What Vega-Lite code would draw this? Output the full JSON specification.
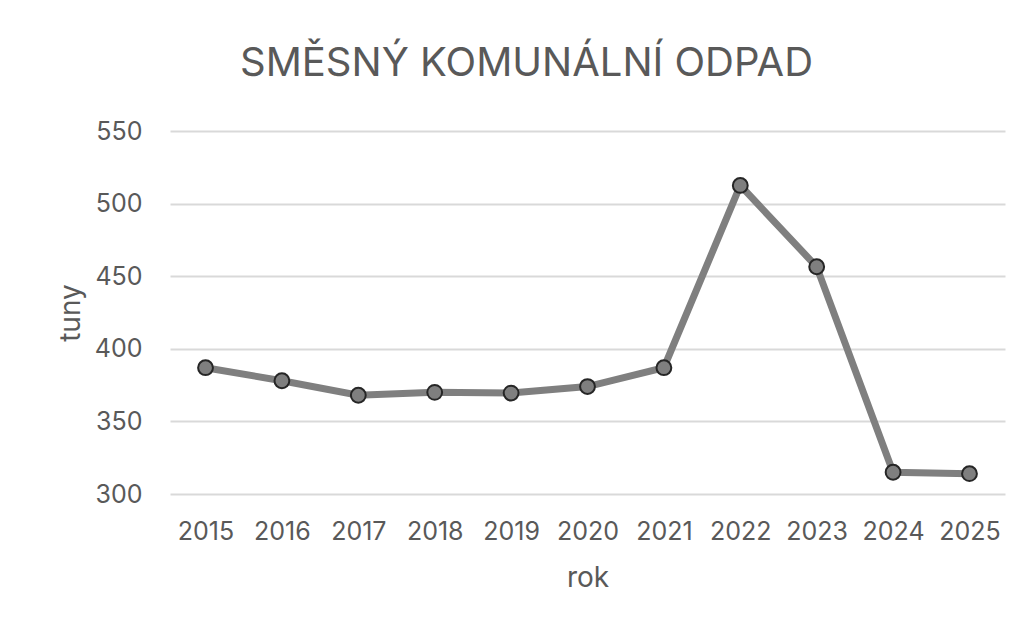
{
  "$schema": "https://vega.github.io/schema/vega-lite/v6.json",
  "autosize": {"type": "none"},
  "width": 835,
  "height": 363,
  "padding": {"left": 170, "top": 131, "right": 22, "bottom": 134},
  "background": "white",
  "config": {
    "font": "Inter",
    "view": {"stroke": null},
    "axis": {"labelColor": "#595959", "titleColor": "#595959", "labelFontSize": 25, "titleFontSize": 28, "titleFontWeight": "normal", "domain": false, "ticks": false, "gridColor": "#d9d9d9", "gridWidth": 2}
  },
  "title": {"text": "SMĚSNÝ KOMUNÁLNÍ ODPAD", "fontSize": 40, "fontWeight": "normal", "color": "#595959", "anchor": "middle", "frame": "group", "dx": -61, "offset": 35},
  "data": {"values": [
    {"rok": "2015", "tuny": 387},
    {"rok": "2016", "tuny": 378},
    {"rok": "2017", "tuny": 368},
    {"rok": "2018", "tuny": 370},
    {"rok": "2019", "tuny": 369.5},
    {"rok": "2020", "tuny": 374},
    {"rok": "2021", "tuny": 387},
    {"rok": "2022", "tuny": 512.5},
    {"rok": "2023", "tuny": 456.5},
    {"rok": "2024", "tuny": 315},
    {"rok": "2025", "tuny": 314}
  ]},
  "encoding": {
    "x": {"field": "rok", "type": "ordinal", "title": "rok", "scale": {"padding": 0.465}, "axis": {"labelAngle": 0, "labelPadding": 25, "titlePadding": 20, "grid": false}},
    "y": {"field": "tuny", "type": "quantitative", "title": "tuny", "scale": {"domain": [300, 550], "nice": false, "zero": false}, "axis": {"values": [300, 350, 400, 450, 500, 550], "labelPadding": 28, "titlePadding": 9}}
  },
  "layer": [
    {"mark": {"type": "line", "color": "#7f7f7f", "strokeWidth": 7}},
    {"mark": {"type": "point", "filled": true, "fill": "#7f7f7f", "stroke": "#262626", "strokeWidth": 2, "size": 220, "opacity": 1}}
  ]
}
